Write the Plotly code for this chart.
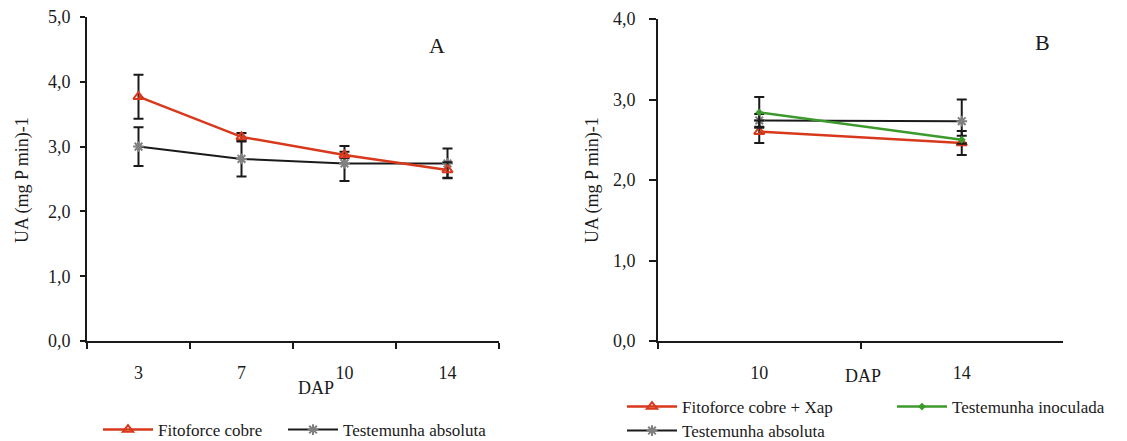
import plotly.graph_objects as go

# ---- data ----
dap_a = ["3", "7", "10", "14"]
fito_a = [3.77, 3.15, 2.87, 2.64]
fito_a_err = [0.34, 0.06, 0.05, 0.12]
test_a = [3.00, 2.81, 2.74, 2.74]
test_a_err = [0.30, 0.27, 0.27, 0.23]

dap_b = ["10", "14"]
fito_b = [2.60, 2.46]
fito_b_err = [0.14, 0.15]
inoc_b = [2.84, 2.50]
inoc_b_err = [0.19, 0.05]
test_b = [2.74, 2.73]
test_b_err = [0.08, 0.27]

W, H = 1127, 441
FONT = "Liberation Serif"
RED = "#d8381c"
GREEN = "#3c9a2c"
BLACK = "#1a1a1a"
GRAY = "#808080"


def px_x(p):
    return p / W


def px_y(p):
    return (H - p) / H


def err(vals):
    return dict(type="data", array=vals, visible=True, color=BLACK, thickness=2, width=5)


fig = go.Figure()

# Panel A
fig.add_trace(go.Scatter(x=dap_a, y=test_a, name="Testemunha absoluta", mode="lines+markers",
                         line=dict(color=BLACK, width=2),
                         marker=dict(symbol="asterisk-open", size=9, color=GRAY, line=dict(color=GRAY, width=2)),
                         error_y=err(test_a_err), xaxis="x", yaxis="y", legend="legend4"))
fig.add_trace(go.Scatter(x=dap_a, y=fito_a, name="Fitoforce cobre", mode="lines+markers",
                         line=dict(color=RED, width=2.5),
                         marker=dict(symbol="triangle-up-open", size=9, color=RED, line=dict(color=RED, width=2)),
                         error_y=err(fito_a_err), xaxis="x", yaxis="y", legend="legend"))

# Panel B
fig.add_trace(go.Scatter(x=dap_b, y=test_b, name="Testemunha absoluta", mode="lines+markers",
                         line=dict(color=BLACK, width=2),
                         marker=dict(symbol="asterisk-open", size=9, color=GRAY, line=dict(color=GRAY, width=2)),
                         error_y=err(test_b_err), xaxis="x2", yaxis="y2", legend="legend3"))
fig.add_trace(go.Scatter(x=dap_b, y=fito_b, name="Fitoforce cobre + Xap", mode="lines+markers",
                         line=dict(color=RED, width=2.5),
                         marker=dict(symbol="triangle-up-open", size=9, color=RED, line=dict(color=RED, width=2)),
                         error_y=err(fito_b_err), xaxis="x2", yaxis="y2", legend="legend2", legendrank=1))
fig.add_trace(go.Scatter(x=dap_b, y=inoc_b, name="Testemunha inoculada", mode="lines+markers",
                         line=dict(color=GREEN, width=2.5),
                         marker=dict(symbol="diamond", size=6, color=GREEN),
                         error_y=err(inoc_b_err), xaxis="x2", yaxis="y2", legend="legend2", legendrank=2))

axis_common = dict(showline=True, linecolor=BLACK, linewidth=2, ticks="outside", tickcolor=BLACK,
                   tickwidth=2, showgrid=False, zeroline=False,
                   tickfont=dict(family=FONT, size=18, color=BLACK))

leg_common = dict(orientation="h", xanchor="left", yanchor="middle", bgcolor="rgba(0,0,0,0)",
                  font=dict(family=FONT, size=17), itemwidth=50)


def ann(text, x, y, size, angle=0):
    return dict(text=text, x=px_x(x), y=px_y(y), xref="paper", yref="paper",
                xanchor="center", yanchor="middle", textangle=angle, showarrow=False,
                font=dict(family=FONT, size=size))


fig.update_layout(
    width=W, height=H,
    margin=dict(l=0, r=0, t=0, b=0, autoexpand=False),
    paper_bgcolor="white", plot_bgcolor="white",
    separators=",.",
    font=dict(family=FONT, size=17, color=BLACK),
    xaxis=dict(domain=[px_x(87), px_x(499)], anchor="y", type="category",
               range=[-0.5, 3.5], tickson="boundaries", ticklen=6, ticklabelstandoff=14,
               automargin=False, **axis_common),
    yaxis=dict(domain=[px_y(341), px_y(17)], anchor="x", range=[0, 5], dtick=1,
               tickformat=".1f", ticklen=5, ticklabelstandoff=6, automargin=False, **axis_common),
    xaxis2=dict(domain=[px_x(658), px_x(1063)], anchor="y2", type="category",
                range=[-0.5, 1.5], tickson="boundaries", ticklen=6, ticklabelstandoff=14,
                automargin=False, **axis_common),
    yaxis2=dict(domain=[px_y(341), px_y(19)], anchor="x2", range=[0, 4], dtick=1,
                tickformat=".1f", ticklen=7, ticklabelstandoff=10, automargin=False, **axis_common),
    legend=dict(x=px_x(98), y=px_y(430), **leg_common),
    legend4=dict(x=px_x(283), y=px_y(430), **leg_common),
    legend2=dict(x=px_x(622), y=px_y(407), entrywidth=205, **leg_common),
    legend3=dict(x=px_x(622), y=px_y(431), **leg_common),
    showlegend=True,
    annotations=[
        ann("UA (mg P min)-1", 22, 180, 18, -90),
        ann("UA (mg P min)-1", 592, 180, 18, -90),
        ann("DAP", 316, 388, 18),
        ann("DAP", 863, 376, 18),
        ann("A", 437, 45, 22),
        ann("B", 1042, 42, 22),
    ],
)

fig.write_html("out.html")
